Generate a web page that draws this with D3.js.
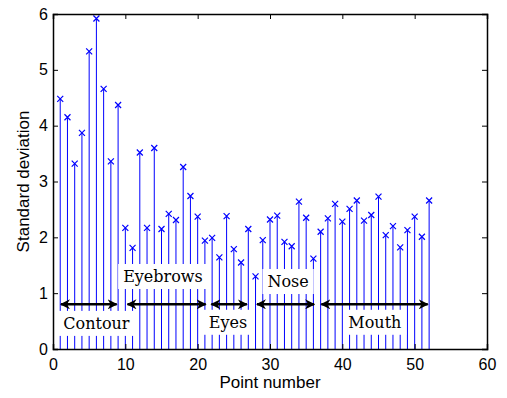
<!DOCTYPE html>
<html>
<head>
<meta charset="utf-8">
<script src="https://cdn.jsdelivr.net/npm/d3@7"></script>
<style>
  body { margin: 0; background: #fff; }
  text { font-family: "Liberation Sans", Arial, sans-serif; }
</style>
</head>
<body>
<div id="chart"></div>
<script>
// data
var pointNumber = d3.range(1, 53);
var stdDev = [4.48, 4.15, 3.32, 3.87, 5.33, 5.92, 4.66, 3.36, 4.37, 2.17,
              1.81, 3.52, 2.17, 3.60, 2.15, 2.42, 2.31, 3.26, 2.74, 2.37,
              1.94, 1.99, 1.64, 2.38, 1.79, 1.55, 2.15, 1.30, 1.95, 2.32,
              2.39, 1.92, 1.84, 2.64, 2.35, 1.62, 2.10, 2.34, 2.60, 2.28,
              2.51, 2.66, 2.30, 2.40, 2.73, 2.04, 2.20, 1.82, 2.13, 2.37,
              2.01, 2.66];
var xTicks = [0, 10, 20, 30, 40, 50, 60];
var yTicks = [0, 1, 2, 3, 4, 5, 6];

// facial regions: arrow span and label anchor (data units)
var regionNames = ["Contour", "Eyebrows", "Eyes", "Nose", "Mouth"];
var arrowFrom   = [1.1, 10.3, 21.9, 28.2, 37.1];
var arrowTo     = [8.8, 21.1, 26.8, 36.1, 51.8];
var arrowY      = 0.8;
var labelX      = [6.0, 15.2, 24.2, 32.5, 44.5];
var labelY      = [0.36, 1.2, 0.38, 1.11, 0.38];

var width = 507, height = 398;
var margin = {top: 14, right: 20, bottom: 49, left: 53};

var svg = d3.select("#chart").append("svg")
    .attr("width", width)
    .attr("height", height);

var x = d3.scaleLinear().domain([0, 60]).range([margin.left, width - margin.right]);
var y = d3.scaleLinear().domain([0, 6]).range([height - margin.bottom, margin.top]);

// arrow marker
var defs = svg.append("defs");
defs.append("marker")
    .attr("id", "head")
    .attr("viewBox", "0 0 10 10")
    .attr("refX", 9).attr("refY", 5)
    .attr("markerWidth", 4).attr("markerHeight", 4)
    .attr("markerUnits", "strokeWidth")
    .attr("orient", "auto-start-reverse")
    .append("path")
    .attr("d", "M0,0 L10,5 L0,10 L3,5 Z")
    .attr("fill", "#000");

// stems
svg.selectAll(".stem")
  .data(pointNumber)
  .enter().append("line")
    .attr("x1", function(d) { return x(d); })
    .attr("x2", function(d) { return x(d); })
    .attr("y1", y(0))
    .attr("y2", function(d, i) { return y(stdDev[i]); })
    .attr("stroke", "#0000ff")
    .attr("stroke-width", 1);

// x markers
var m = 3;
svg.selectAll(".mark")
  .data(pointNumber)
  .enter().append("path")
    .attr("d", function(d, i) {
      var cx = x(d), cy = y(stdDev[i]);
      return "M" + (cx - m) + "," + (cy - m) + "L" + (cx + m) + "," + (cy + m) +
             "M" + (cx - m) + "," + (cy + m) + "L" + (cx + m) + "," + (cy - m);
    })
    .attr("stroke", "#0000ff")
    .attr("stroke-width", 1.2)
    .attr("fill", "none");

// arrows
svg.selectAll(".arrow")
  .data(regionNames)
  .enter().append("line")
    .attr("x1", function(d, i) { return x(arrowFrom[i]); })
    .attr("x2", function(d, i) { return x(arrowTo[i]); })
    .attr("y1", y(arrowY))
    .attr("y2", y(arrowY))
    .attr("stroke", "#000")
    .attr("stroke-width", 2.5)
    .attr("marker-start", "url(#head)")
    .attr("marker-end", "url(#head)");

// labels with white boxes
var labels = svg.selectAll(".lab")
  .data(regionNames)
  .enter().append("g");

labels.append("text")
    .attr("x", function(d, i) { return x(labelX[i]); })
    .attr("y", function(d, i) { return y(labelY[i]); })
    .attr("text-anchor", "middle")
    .style("font-family", "'DejaVu Serif', 'Liberation Serif', serif")
    .style("font-size", "16px")
    .text(function(d) { return d; });

labels.each(function() {
  var g = d3.select(this);
  var bb = g.select("text").node().getBBox();
  g.insert("rect", "text")
    .attr("x", bb.x - 5)
    .attr("y", bb.y - 3)
    .attr("width", bb.width + 10)
    .attr("height", bb.height + 6)
    .attr("fill", "#fff");
});

// axes box with inward ticks
svg.append("g")
    .attr("transform", "translate(0," + y(0) + ")")
    .call(d3.axisBottom(x).tickValues(xTicks).tickSize(-5).tickPadding(10).tickFormat(d3.format("d")))
    .call(function(g) { g.selectAll("text").style("font-size", "16px").attr("fill", "#000"); });

svg.append("g")
    .attr("transform", "translate(0," + y(6) + ")")
    .call(d3.axisTop(x).tickValues(xTicks).tickSize(-5).tickFormat(""));

svg.append("g")
    .attr("transform", "translate(" + x(0) + ",0)")
    .call(d3.axisLeft(y).tickValues(yTicks).tickSize(-5).tickPadding(5).tickFormat(d3.format("d")))
    .call(function(g) { g.selectAll("text").style("font-size", "16px").attr("fill", "#000"); });

svg.append("g")
    .attr("transform", "translate(" + x(60) + ",0)")
    .call(d3.axisRight(y).tickValues(yTicks).tickSize(-5).tickFormat(""));

svg.selectAll(".domain").attr("stroke", "#000").attr("stroke-width", 1.5);
svg.selectAll(".tick line").attr("stroke", "#000");

// axis titles
svg.append("text")
    .attr("x", x(30))
    .attr("y", 388)
    .attr("text-anchor", "middle")
    .style("font-size", "17px")
    .text("Point number");

svg.append("text")
    .attr("transform", "translate(29," + y(3) + ") rotate(-90)")
    .attr("text-anchor", "middle")
    .style("font-size", "17px")
    .text("Standard deviation");
</script>
</body>
</html>
